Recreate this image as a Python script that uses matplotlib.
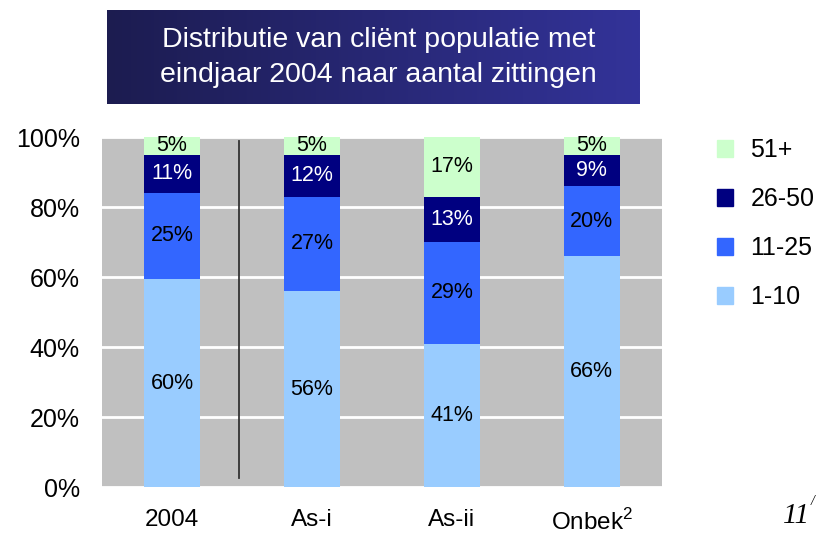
import numpy as np
import matplotlib.pyplot as plt
from matplotlib.patches import Patch
from matplotlib.colors import LinearSegmentedColormap

# Gegevens van de grafiek
categorieen = ['2004', 'As-i', 'As-ii', 'Onbek$^2$']
reeksen = ['1-10', '11-25', '26-50', '51+']
waarden = {
    '1-10': [60, 56, 41, 66],
    '11-25': [25, 27, 29, 20],
    '26-50': [11, 12, 13, 9],
    '51+': [5, 5, 17, 5],
}
kleuren = {'1-10': '#99CCFF', '11-25': '#3366FF', '26-50': '#000080', '51+': '#CCFFCC'}
tekstkleur = {'1-10': 'black', '11-25': 'black', '26-50': 'white', '51+': 'black'}
titel = 'Distributie van cliënt populatie met\neindjaar 2004 naar aantal zittingen'

plt.rcParams['font.family'] = ['Liberation Sans', 'DejaVu Sans']
plt.rcParams['mathtext.fontset'] = 'custom'
plt.rcParams['mathtext.rm'] = 'Liberation Sans'

fig = plt.figure(figsize=(8.16, 5.34), dpi=100)
ax = fig.add_axes([0.125, 0.088, 0.686, 0.655])
ax.set_facecolor('#C0C0C0')

# Normaliseren naar 100%
matrix = np.array([waarden[r] for r in reeksen], dtype=float)
totaal = matrix.sum(axis=0)
aandeel = matrix / totaal * 100

x = np.arange(len(categorieen))
onder = np.zeros(len(categorieen))
for i, r in enumerate(reeksen):
    ax.bar(x, aandeel[i], 0.4, bottom=onder, color=kleuren[r], zorder=3)
    for j in range(len(x)):
        ax.text(x[j], onder[j] + aandeel[i][j] / 2, f'{waarden[r][j]}%',
                ha='center', va='center', fontsize=15.5, color=tekstkleur[r], zorder=4)
    onder += aandeel[i]

ax.set_xlim(-0.5, 3.5)
ax.set_ylim(0, 100)
ax.set_yticks([0, 20, 40, 60, 80, 100])
ax.set_yticklabels(['0%', '20%', '40%', '60%', '80%', '100%'], fontsize=18)
ax.set_xticks(x)
ax.set_xticklabels(categorieen, fontsize=17.5)
ax.tick_params(length=0, pad=16, axis='x')
ax.tick_params(length=0, pad=16, axis='y')
ax.grid(axis='y', color='white', linewidth=2, zorder=1)
for s in ax.spines.values():
    s.set_visible(False)

# scheidingslijn tussen 2004 en de rest
ax.axvline(0.48, ymin=0.025, ymax=0.99, color='#333333', linewidth=1.3, zorder=2)

# legenda
handles = [Patch(color=kleuren[r], label=r) for r in reversed(reeksen)]
ax.legend(handles=handles, loc='upper left', bbox_to_anchor=(1.08, 1.025), frameon=False,
          fontsize=18, handlelength=0.65, handleheight=0.65, labelspacing=1.0,
          handletextpad=0.7, borderaxespad=0)

# titelbalk met kleurverloop
tax = fig.add_axes([0.131, 0.805, 0.653, 0.176])
verloop = np.linspace(0, 1, 256).reshape(1, -1)
cmap = LinearSegmentedColormap.from_list('titel', ['#1C1C50', '#333399'])
tax.imshow(verloop, aspect='auto', cmap=cmap, extent=[0, 1, 0, 1])
tax.set_axis_off()
tax.text(0.51, 0.5, titel, ha='center', va='center', color='white',
         fontsize=20.5, linespacing=1.45, transform=tax.transAxes)

# paginanummer
fig.text(0.96, 0.02, '11', fontsize=21, style='italic', family='Liberation Serif')
fig.text(0.994, 0.055, '/', fontsize=10, style='italic', family='Liberation Serif')

fig.savefig('out.png', dpi=100)
